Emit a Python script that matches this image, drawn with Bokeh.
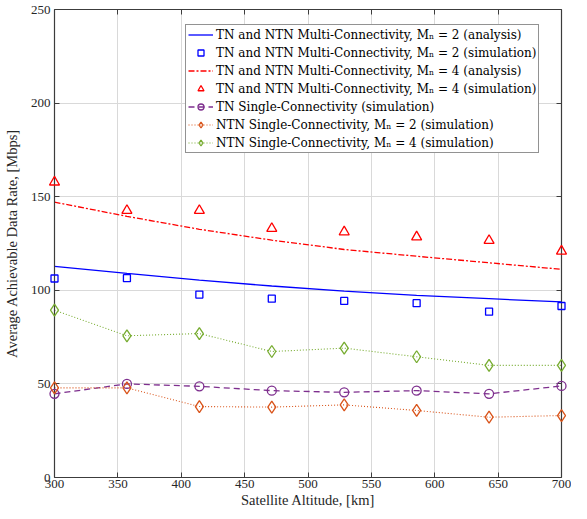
from bokeh.plotting import figure
from bokeh.models import Range1d, LinearAxis, Legend, LegendItem, FixedTicker
from bokeh.embed import file_html
from bokeh.resources import INLINE

# ---- data ----
altitude = [300, 357.14, 414.29, 471.43, 528.57, 585.71, 642.86, 700]
mc2_analysis = [112.8, 109.0, 105.4, 102.3, 99.6, 97.3, 95.5, 93.8]
mc2_sim = [106.3, 106.5, 97.7, 95.5, 94.3, 93.1, 88.6, 91.6]
mc4_analysis = [147.1, 139.5, 132.6, 126.8, 121.8, 118.2, 114.7, 111.2]
mc4_sim = [157.8, 142.6, 142.6, 133.0, 131.2, 128.5, 126.6, 120.9]
tn_single = [44.7, 50.0, 48.7, 46.4, 45.5, 46.4, 44.7, 48.9]
ntn_single_m2 = [47.9, 47.9, 37.9, 37.6, 38.8, 35.8, 32.2, 33.1]
ntn_single_m4 = [89.4, 75.7, 76.9, 67.3, 69.1, 64.5, 59.9, 59.9]

x_ticks = [300, 350, 400, 450, 500, 550, 600, 650, 700]
y_ticks = [0, 50, 100, 150, 200, 250]

labels = [
    "TN and NTN Multi-Connectivity, M\u2099 = 2 (analysis)",
    "TN and NTN Multi-Connectivity, M\u2099 = 2 (simulation)",
    "TN and NTN Multi-Connectivity, M\u2099 = 4 (analysis)",
    "TN and NTN Multi-Connectivity, M\u2099 = 4 (simulation)",
    "TN Single-Connectivity (simulation)",
    "NTN Single-Connectivity, M\u2099 = 2 (simulation)",
    "NTN Single-Connectivity, M\u2099 = 4 (simulation)",
]

FONT = "Liberation Serif"
AX = "#3c3c3c"

p = figure(frame_width=507, frame_height=468, min_border_left=50, min_border_right=10,
           min_border_top=9, min_border_bottom=33,
           x_range=Range1d(300, 700), y_range=Range1d(0, 250),
           output_backend="svg", toolbar_location=None,
           background_fill_color="white", border_fill_color="white")
p.outline_line_color = None

xa = p.xaxis[0]
ya = p.yaxis[0]
xa.ticker = FixedTicker(ticks=x_ticks)
ya.ticker = FixedTicker(ticks=y_ticks)
for ax in (xa, ya):
    ax.axis_line_color = AX
    ax.axis_line_width = 1.2
    ax.major_tick_line_color = AX
    ax.major_tick_in = 5
    ax.major_tick_out = 0
    ax.minor_tick_line_color = None
    ax.major_label_text_font = FONT
    ax.major_label_text_font_size = "13px"
    ax.major_label_text_color = "#262626"
    ax.axis_label_text_font = FONT
    ax.axis_label_text_font_style = "normal"
    ax.axis_label_text_font_size = "14.5px"
    ax.axis_label_text_color = "#262626"
xa.axis_label = "Satellite Altitude, [km]"
ya.axis_label = "Average Achievable Data Rate, [Mbps]"
xa.major_label_standoff = 2
xa.axis_label_standoff = 1
ya.major_label_standoff = 4
ya.axis_label_standoff = 8

top = LinearAxis(ticker=FixedTicker(ticks=x_ticks))
right = LinearAxis(ticker=FixedTicker(ticks=y_ticks))
for ax in (top, right):
    ax.axis_line_color = AX
    ax.axis_line_width = 1.2
    ax.major_tick_line_color = AX
    ax.major_tick_in = 5
    ax.major_tick_out = 0
    ax.minor_tick_line_color = None
    ax.major_label_text_font_size = "0px"
    ax.major_label_text_color = None
    ax.major_label_standoff = 0
p.add_layout(top, "above")
p.add_layout(right, "right")

p.xgrid.ticker = FixedTicker(ticks=x_ticks)
p.ygrid.ticker = FixedTicker(ticks=y_ticks)
for g in (p.xgrid[0], p.ygrid[0]):
    g.grid_line_color = "#d9d9d9"
    g.grid_line_width = 1

BLUE = "#0000ff"
RED = "#ff0000"
PURPLE = "#7e2f8e"
ORANGE = "#d95319"
GREEN = "#77ac30"

r1 = p.line(altitude, mc2_analysis, line_color=BLUE, line_width=1.3)
r2 = p.scatter(altitude, mc2_sim, marker="square", size=7, fill_color=None,
               line_color=BLUE, line_width=1.3, level="overlay")
r3 = p.line(altitude, mc4_analysis, line_color=RED, line_width=1.3, line_dash="6 2 2 2")
r4 = p.scatter(altitude, mc4_sim, marker="triangle", size=10, fill_color=None,
               line_color=RED, line_width=1.3, level="overlay")
r5l = p.line(altitude, tn_single, line_color=PURPLE, line_width=1.3, line_dash="6 4")
r5m = p.scatter(altitude, tn_single, marker="circle", size=9, fill_color=None,
                line_color=PURPLE, line_width=1.3, level="overlay")
r6l = p.line(altitude, ntn_single_m2, line_color=ORANGE, line_width=1.1, line_dash="1 2")
r6m = p.scatter(altitude, ntn_single_m2, marker="diamond", size=12, fill_color=None,
                line_color=ORANGE, line_width=1.3, level="overlay")
r7l = p.line(altitude, ntn_single_m4, line_color=GREEN, line_width=1.1, line_dash="1 2")
r7m = p.scatter(altitude, ntn_single_m4, marker="diamond", size=12, fill_color=None,
                line_color=GREEN, line_width=1.3, level="overlay")

items = [
    LegendItem(label=labels[0], renderers=[r1]),
    LegendItem(label=labels[1], renderers=[r2]),
    LegendItem(label=labels[2], renderers=[r3]),
    LegendItem(label=labels[3], renderers=[r4]),
    LegendItem(label=labels[4], renderers=[r5l, r5m]),
    LegendItem(label=labels[5], renderers=[r6l, r6m]),
    LegendItem(label=labels[6], renderers=[r7l, r7m]),
]
legend = Legend(items=items, location=(131, 324))
legend.label_text_font = "DejaVu Serif"
legend.label_text_font_size = "12px"
legend.label_text_color = "#000000"
legend.label_height = 15
legend.glyph_height = 15
legend.glyph_width = 25
legend.spacing = 3
legend.padding = 2
legend.margin = 0
legend.label_standoff = 3
legend.border_line_color = "#262626"
legend.border_line_width = 1
legend.background_fill_color = "white"
legend.background_fill_alpha = 1
p.add_layout(legend, "center")

open("out.html", "w").write(file_html(p, INLINE))
